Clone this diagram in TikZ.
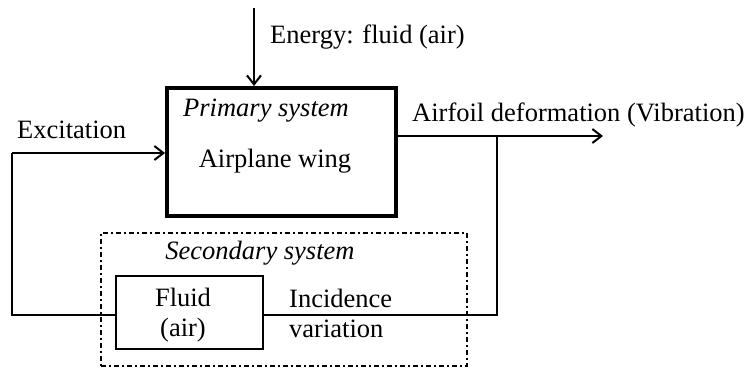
\documentclass[tikz,border=0pt]{standalone}
\usepackage{fontspec}
\setmainfont{Liberation Serif}
\usetikzlibrary{arrows.meta}
\begin{document}
\begin{tikzpicture}[x=1pt,y=-1pt,
  every node/.style={font=\fontsize{26.5}{30}\selectfont, inner sep=0pt},
  conn/.style={line width=2pt, -{Straight Barb[length=9pt,width=14pt,line width=2pt]}},
  line/.style={line width=2pt},
  lbl/.style={anchor=base west}]
\useasboundingbox (0,0) rectangle (752,367);
% boxes
\node[draw, line width=4pt, minimum width=229pt, minimum height=128pt, anchor=north west] (prim) at (165,86) {};
\node[lbl, font=\fontsize{26.5}{30}\selectfont\itshape] (ptitle) at (183,116) {Primary system};
\node[anchor=base] (pwing) at (275,167) {Airplane wing};
\node[draw, dash pattern=on 5pt off 3pt on 2pt off 3pt, line width=1.5pt, minimum width=366pt, minimum height=133pt, anchor=north west] (sec) at (100,232) {};
\node[anchor=base, font=\fontsize{26.5}{30}\selectfont\itshape] (stitle) at (260,259) {Secondary system};
\node[draw, line width=2pt, minimum width=147pt, minimum height=73pt, anchor=north west] (fluid) at (115,275) {};
\node[anchor=base] (fl1) at (183,306) {Fluid};
\node[anchor=base] (fl2) at (183,336) {(air)};
\node[lbl] (inc1) at (289,307) {Incidence};
\node[lbl] (inc2) at (289,337) {variation};
% coordinates
\coordinate (etop) at (254,8);
\coordinate (outend) at (603,136);
\coordinate (branch) at (497,136);
\coordinate (brbot) at (497,315);
\coordinate (lbot) at (12,315);
\coordinate (ltop) at (12,153);
\coordinate (exend) at (165,153);
% labels
\node[lbl] (elbl) at (270,43) {Energy: fluid (air)};
\node[lbl] (exlbl) at (17,138) {Excitation};
\node[lbl] (outlbl) at (412,121) {Airfoil deformation (Vibration)};
% connectors
\draw[conn] (etop) -- (prim.north -| etop);
\draw[conn] (prim.east |- outend) -- (outend);
\draw[line] (branch) -- (brbot) -- (fluid.east |- brbot);
\draw[line] (fluid.west |- lbot) -- (lbot) -- (ltop);
\draw[conn] (ltop) -- (prim.west |- exend);
\end{tikzpicture}
\end{document}
